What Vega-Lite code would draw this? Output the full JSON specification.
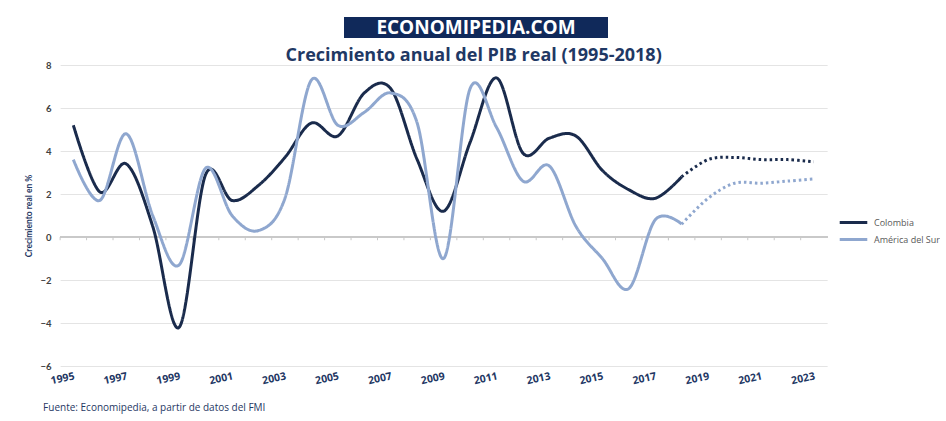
{
  "$schema": "https://vega.github.io/schema/vega-lite/v6.json",
  "padding": {"left": 24, "top": 17, "right": 0, "bottom": 0},
  "background": "white",
  "config": {"font": "Lato", "view": {"stroke": null}},
  "title": {"text": "Fuente: Economipedia, a partir de datos del FMI", "orient": "bottom", "anchor": "start", "font": "Open Sans", "fontSize": 10, "fontWeight": "normal", "color": "#1f3864", "offset": 17, "dx": 19},
  "spacing": 9,
  "center": true,
  "vconcat": [
    {
      "spacing": 0,
      "hconcat": [
        {
          "width": 64,
          "height": 21,
          "data": {"values": [{"texto": ""}]},
          "mark": {"type": "text", "opacity": 0},
          "encoding": {"text": {"field": "texto"}}
        },
        {
          "width": 264,
          "height": 21,
          "view": {"fill": "#10295a", "stroke": null},
          "data": {"values": [{"texto": "ECONOMIPEDIA.COM"}]},
          "mark": {"type": "text", "color": "white", "font": "Open Sans", "fontSize": 19, "fontWeight": "bold", "baseline": "middle", "align": "center"},
          "encoding": {"text": {"field": "texto"}}
        }
      ]
    },
    {
      "width": 767,
      "height": 301,
      "title": {"text": "Crecimiento anual del PIB real (1995-2018)", "font": "Open Sans", "fontSize": 18, "fontWeight": "bold", "color": "#1f3864", "offset": 0, "dx": 30, "dy": 5},
      "data": {"values": [
        {"anio": "1995", "serie": "Colombia", "tipo": "Real", "valor": 5.2},
        {"anio": "1996", "serie": "Colombia", "tipo": "Real", "valor": 2.1},
        {"anio": "1997", "serie": "Colombia", "tipo": "Real", "valor": 3.4},
        {"anio": "1998", "serie": "Colombia", "tipo": "Real", "valor": 0.5},
        {"anio": "1999", "serie": "Colombia", "tipo": "Real", "valor": -4.2},
        {"anio": "2000", "serie": "Colombia", "tipo": "Real", "valor": 2.9},
        {"anio": "2001", "serie": "Colombia", "tipo": "Real", "valor": 1.7},
        {"anio": "2002", "serie": "Colombia", "tipo": "Real", "valor": 2.4},
        {"anio": "2003", "serie": "Colombia", "tipo": "Real", "valor": 3.7},
        {"anio": "2004", "serie": "Colombia", "tipo": "Real", "valor": 5.3},
        {"anio": "2005", "serie": "Colombia", "tipo": "Real", "valor": 4.7},
        {"anio": "2006", "serie": "Colombia", "tipo": "Real", "valor": 6.7},
        {"anio": "2007", "serie": "Colombia", "tipo": "Real", "valor": 6.9},
        {"anio": "2008", "serie": "Colombia", "tipo": "Real", "valor": 3.6},
        {"anio": "2009", "serie": "Colombia", "tipo": "Real", "valor": 1.2},
        {"anio": "2010", "serie": "Colombia", "tipo": "Real", "valor": 4.4},
        {"anio": "2011", "serie": "Colombia", "tipo": "Real", "valor": 7.4},
        {"anio": "2012", "serie": "Colombia", "tipo": "Real", "valor": 3.9},
        {"anio": "2013", "serie": "Colombia", "tipo": "Real", "valor": 4.6},
        {"anio": "2014", "serie": "Colombia", "tipo": "Real", "valor": 4.7},
        {"anio": "2015", "serie": "Colombia", "tipo": "Real", "valor": 3.1},
        {"anio": "2016", "serie": "Colombia", "tipo": "Real", "valor": 2.2},
        {"anio": "2017", "serie": "Colombia", "tipo": "Real", "valor": 1.8},
        {"anio": "2018", "serie": "Colombia", "tipo": "Real", "valor": 2.8},
        {"anio": "2018", "serie": "Colombia", "tipo": "Proyección", "valor": 2.8},
        {"anio": "2019", "serie": "Colombia", "tipo": "Proyección", "valor": 3.6},
        {"anio": "2020", "serie": "Colombia", "tipo": "Proyección", "valor": 3.7},
        {"anio": "2021", "serie": "Colombia", "tipo": "Proyección", "valor": 3.6},
        {"anio": "2022", "serie": "Colombia", "tipo": "Proyección", "valor": 3.6},
        {"anio": "2023", "serie": "Colombia", "tipo": "Proyección", "valor": 3.5},
        {"anio": "1995", "serie": "América del Sur", "tipo": "Real", "valor": 3.6},
        {"anio": "1996", "serie": "América del Sur", "tipo": "Real", "valor": 1.7},
        {"anio": "1997", "serie": "América del Sur", "tipo": "Real", "valor": 4.8},
        {"anio": "1998", "serie": "América del Sur", "tipo": "Real", "valor": 1.0},
        {"anio": "1999", "serie": "América del Sur", "tipo": "Real", "valor": -1.3},
        {"anio": "2000", "serie": "América del Sur", "tipo": "Real", "valor": 3.2},
        {"anio": "2001", "serie": "América del Sur", "tipo": "Real", "valor": 1.0},
        {"anio": "2002", "serie": "América del Sur", "tipo": "Real", "valor": 0.3},
        {"anio": "2003", "serie": "América del Sur", "tipo": "Real", "valor": 1.8},
        {"anio": "2004", "serie": "América del Sur", "tipo": "Real", "valor": 7.3},
        {"anio": "2005", "serie": "América del Sur", "tipo": "Real", "valor": 5.2},
        {"anio": "2006", "serie": "América del Sur", "tipo": "Real", "valor": 5.8},
        {"anio": "2007", "serie": "América del Sur", "tipo": "Real", "valor": 6.7},
        {"anio": "2008", "serie": "América del Sur", "tipo": "Real", "valor": 5.3},
        {"anio": "2009", "serie": "América del Sur", "tipo": "Real", "valor": -1.0},
        {"anio": "2010", "serie": "América del Sur", "tipo": "Real", "valor": 6.9},
        {"anio": "2011", "serie": "América del Sur", "tipo": "Real", "valor": 5.1},
        {"anio": "2012", "serie": "América del Sur", "tipo": "Real", "valor": 2.6},
        {"anio": "2013", "serie": "América del Sur", "tipo": "Real", "valor": 3.3},
        {"anio": "2014", "serie": "América del Sur", "tipo": "Real", "valor": 0.5},
        {"anio": "2015", "serie": "América del Sur", "tipo": "Real", "valor": -1.0},
        {"anio": "2016", "serie": "América del Sur", "tipo": "Real", "valor": -2.4},
        {"anio": "2017", "serie": "América del Sur", "tipo": "Real", "valor": 0.8},
        {"anio": "2018", "serie": "América del Sur", "tipo": "Real", "valor": 0.6},
        {"anio": "2018", "serie": "América del Sur", "tipo": "Proyección", "valor": 0.6},
        {"anio": "2019", "serie": "América del Sur", "tipo": "Proyección", "valor": 1.8},
        {"anio": "2020", "serie": "América del Sur", "tipo": "Proyección", "valor": 2.5},
        {"anio": "2021", "serie": "América del Sur", "tipo": "Proyección", "valor": 2.5},
        {"anio": "2022", "serie": "América del Sur", "tipo": "Proyección", "valor": 2.6},
        {"anio": "2023", "serie": "América del Sur", "tipo": "Proyección", "valor": 2.7}
      ]},
      "layer": [
        {
          "mark": {"type": "rule", "color": "#c8c8c8", "strokeWidth": 1.5},
          "encoding": {"y": {"datum": 0, "type": "quantitative"}}
        },
        {
          "transform": [{"filter": "datum.serie == 'Colombia'"}],
          "mark": {"type": "rule", "color": "#c8c8c8", "strokeWidth": 1},
          "encoding": {
            "x": {"field": "anio", "type": "ordinal", "bandPosition": 0},
            "y": {"datum": 0, "type": "quantitative"},
            "y2": {"datum": -0.15}
          }
        },
        {
          "mark": {"type": "line", "interpolate": "cardinal", "strokeWidth": 3},
          "encoding": {
            "x": {
              "field": "anio", "type": "ordinal", "bandPosition": 0.5,
              "scale": {"type": "band", "paddingInner": 0, "paddingOuter": 0},
              "axis": {
                "title": null, "values": ["1995","1997","1999","2001","2003","2005","2007","2009","2011","2013","2015","2017","2019","2021","2023"],
                "labelAngle": -12, "labelAlign": "right", "labelBaseline": "top", "labelPadding": 5,
                "labelFont": "Open Sans", "labelFontSize": 10.5, "labelFontWeight": "bold", "labelColor": "#1f3864",
                "ticks": false, "domain": false, "grid": false
              }
            },
            "y": {
              "field": "valor", "type": "quantitative",
              "scale": {"domain": [-6, 8], "nice": false, "zero": false},
              "axis": {
                "title": "Crecimiento real en %", "titleFontSize": 8.5, "titleFontWeight": "bold", "titleColor": "#1f3864", "titlePadding": 7,
                "values": [-6, -4, -2, 0, 2, 4, 6, 8], "labelFontSize": 9.5, "labelFontWeight": "bold", "labelColor": "#404040", "labelPadding": 9,
                "ticks": false, "domain": false, "grid": true, "gridColor": "#e4e4e4", "gridWidth": 1
              }
            },
            "color": {
              "field": "serie", "type": "nominal",
              "scale": {"domain": ["Colombia", "América del Sur"], "range": ["#1a2b4c", "#8fa7cf"]},
              "legend": {
                "title": null, "orient": "none", "legendX": 785, "legendY": 197, "padding": 0,
                "symbolType": "M-2,0H2", "symbolSize": 190, "symbolStrokeWidth": 3,
                "labelFontSize": 9, "labelColor": "#595959", "labelFont": "Open Sans", "labelOffset": 12, "rowPadding": 2
              }
            },
            "strokeDash": {
              "field": "tipo", "type": "nominal",
              "scale": {"domain": ["Real", "Proyección"], "range": [[1, 0], [2.5, 3]]},
              "legend": null
            }
          }
        }
      ]
    }
  ]
}
